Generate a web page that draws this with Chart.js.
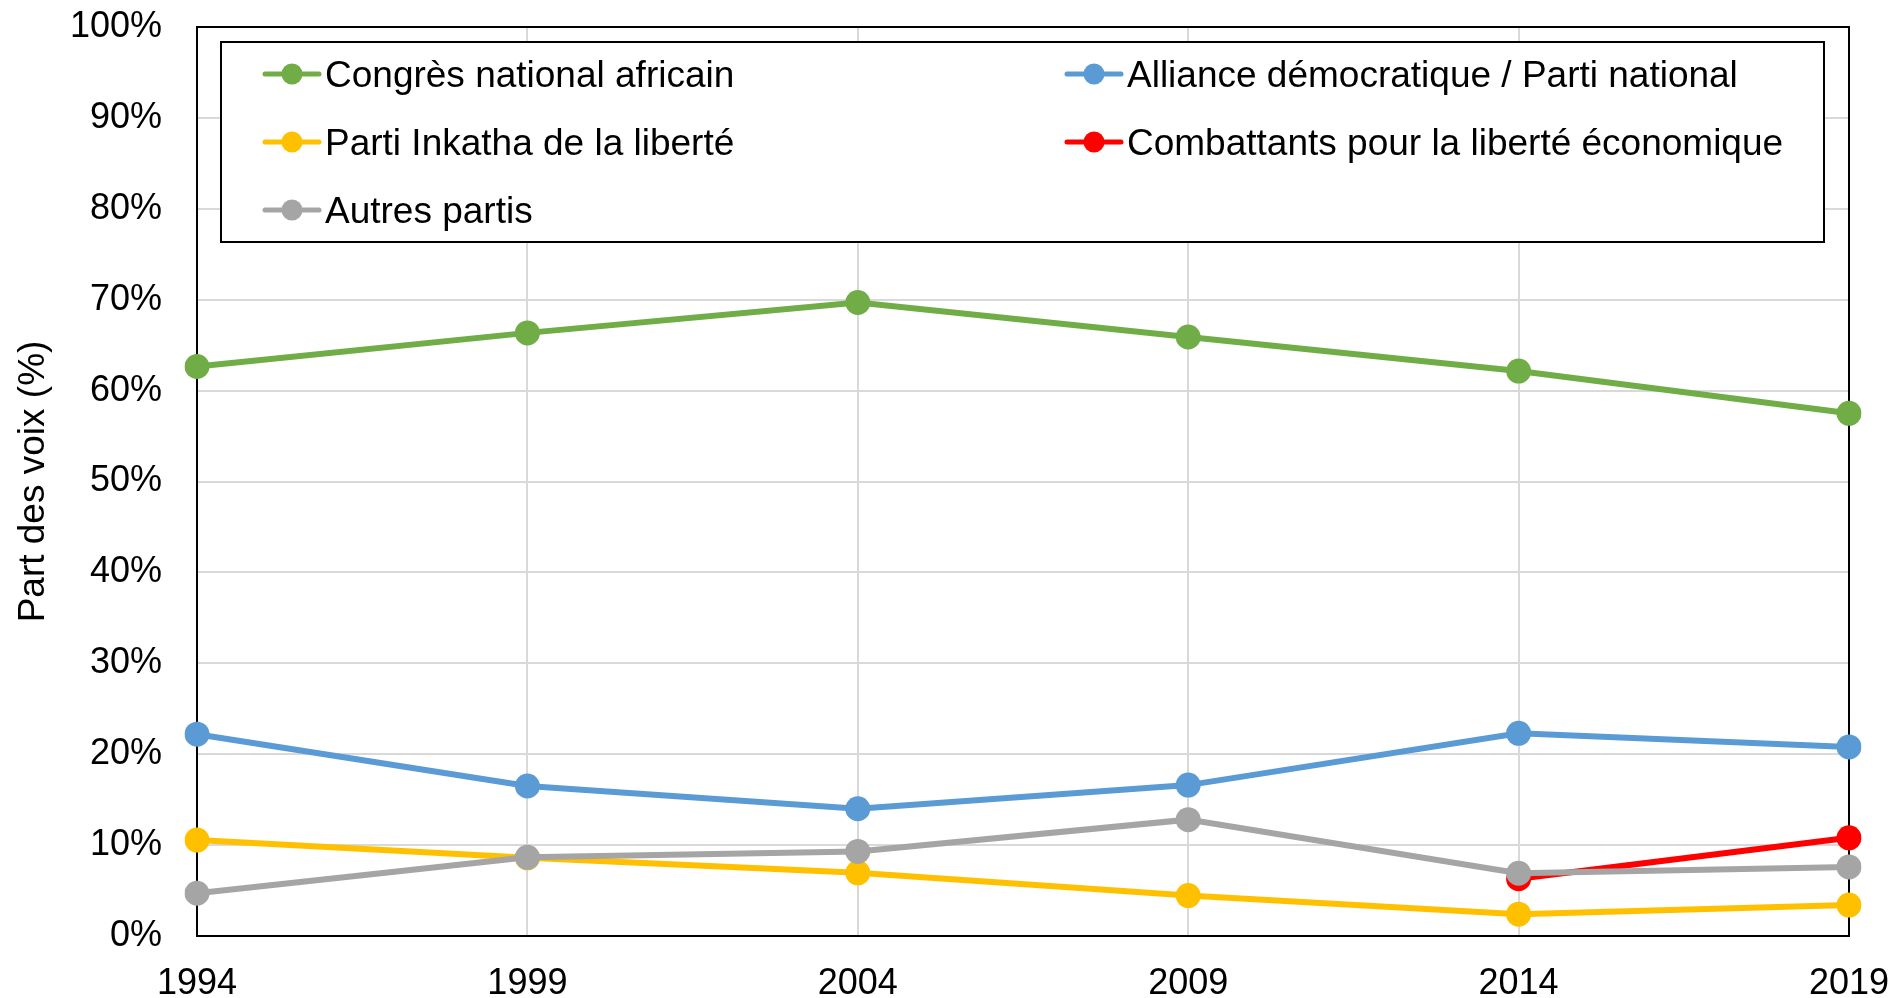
<!DOCTYPE html>
<html>
<head>
<meta charset="utf-8">
<script src="https://cdn.jsdelivr.net/npm/chart.js@4.4.0/dist/chart.umd.min.js"></script>
<style>
body { margin: 0; background: #fff; }
#wrap { width: 1896px; height: 998px; }
</style>
</head>
<body>
<div id="wrap"><canvas id="chart" width="1896" height="998"></canvas></div>
<script>
var years = ['1994', '1999', '2004', '2009', '2014', '2019'];
var ancValues = [62.65, 66.35, 69.69, 65.9, 62.15, 57.5];
var daValues = [22.2, 16.5, 14.0, 16.6, 22.3, 20.8];
var ifpValues = [10.55, 8.6, 6.95, 4.45, 2.4, 3.4];
var effValues = [null, null, null, null, 6.3, 10.8];
var otherValues = [4.7, 8.65, 9.3, 12.8, 6.9, 7.6];
var seriesNames = ['Congrès national africain', 'Alliance démocratique / Parti national', 'Parti Inkatha de la liberté', 'Combattants pour la liberté économique', 'Autres partis'];
var seriesColors = ['#70ad47', '#5b9bd5', '#ffc000', '#ff0000', '#a5a5a5'];
var yTicks = [0, 10, 20, 30, 40, 50, 60, 70, 80, 90, 100];

var FONT = '"Liberation Sans", Arial, sans-serif';

function makeSet(i, values, order) {
  return {
    label: seriesNames[i],
    data: values,
    borderColor: seriesColors[i],
    backgroundColor: seriesColors[i],
    borderWidth: 6,
    pointRadius: 12.5,
    pointBorderWidth: 0,
    pointHoverRadius: 12.5,
    tension: 0,
    order: order
  };
}

// frame round the plot area, under the lines
var framePlugin = {
  id: 'frame',
  beforeDatasetsDraw: function(chart) {
    var a = chart.chartArea;
    var ctx = chart.ctx;
    ctx.save();
    ctx.strokeStyle = '#000';
    ctx.lineWidth = 2;
    ctx.strokeRect(a.left, a.top, a.right - a.left, a.bottom - a.top);
    ctx.restore();
  }
};

// boxed two-column legend inside the plot
var legendPlugin = {
  id: 'boxLegend',
  afterDraw: function(chart) {
    var a = chart.chartArea;
    var ctx = chart.ctx;
    var boxL = a.left + 24, boxT = a.top + 15, boxR = a.right - 25, boxH = 200;
    ctx.save();
    ctx.fillStyle = '#fff';
    ctx.fillRect(boxL, boxT, boxR - boxL, boxH);
    ctx.strokeStyle = '#000';
    ctx.lineWidth = 2;
    ctx.strokeRect(boxL, boxT, boxR - boxL, boxH);

    var colX = [boxL + 71, boxL + 873];
    var sets = chart.data.datasets;
    for (var i = 0; i < sets.length; i++) {
      var cx = colX[i % 2];
      var cy = boxT + 32 + Math.floor(i / 2) * 68;
      ctx.strokeStyle = sets[i].borderColor;
      ctx.lineWidth = 5;
      ctx.lineCap = 'round';
      ctx.beginPath();
      ctx.moveTo(cx - 27, cy);
      ctx.lineTo(cx + 27, cy);
      ctx.stroke();
      ctx.fillStyle = sets[i].borderColor;
      ctx.beginPath();
      ctx.arc(cx, cy, 10.5, 0, Math.PI * 2);
      ctx.fill();
      ctx.fillStyle = '#000';
      ctx.font = '37px ' + FONT;
      ctx.textBaseline = 'alphabetic';
      ctx.textAlign = 'left';
      ctx.fillText(sets[i].label, cx + 33, cy + 13);
    }
    ctx.restore();
  }
};

var chart = new Chart(document.getElementById('chart'), {
  type: 'line',
  data: {
    labels: years,
    datasets: [
      makeSet(0, ancValues, 4),
      makeSet(1, daValues, 3),
      makeSet(2, ifpValues, 2),
      makeSet(3, effValues, 1),
      makeSet(4, otherValues, 0)
    ]
  },
  options: {
    responsive: false,
    animation: false,
    layout: { padding: { top: 27, right: 47, left: 0, bottom: 0 } },
    plugins: {
      legend: { display: false },
      tooltip: { enabled: false }
    },
    scales: {
      x: {
        offset: false,
        grid: { color: '#d9d9d9', lineWidth: 2, drawTicks: false },
        border: { color: '#000', width: 2 },
        ticks: { color: '#000', font: { family: FONT, size: 36 }, padding: 26, maxRotation: 0 },
        afterFit: function(scale) {
          scale.height = 62;
          scale.paddingLeft = 0;
          scale.paddingRight = 0;
        }
      },
      y: {
        min: 0,
        max: 100,
        afterBuildTicks: function(scale) {
          scale.ticks = yTicks.map(function(v) { return { value: v }; });
        },
        grid: { color: '#d9d9d9', lineWidth: 2, drawTicks: false },
        border: { color: '#000', width: 2 },
        ticks: {
          color: '#000',
          font: { family: FONT, size: 36 },
          padding: 35,
          callback: function(v) { return v + '%'; }
        },
        title: {
          display: true,
          text: 'Part des voix (%)',
          color: '#000',
          font: { family: FONT, size: 37 },
          padding: { top: 12, bottom: 0 }
        },
        afterFit: function(scale) {
          scale.width = 197;
          scale.paddingTop = 0;
          scale.paddingBottom = 0;
        }
      }
    }
  },
  plugins: [framePlugin, legendPlugin]
});
</script>
</body>
</html>
